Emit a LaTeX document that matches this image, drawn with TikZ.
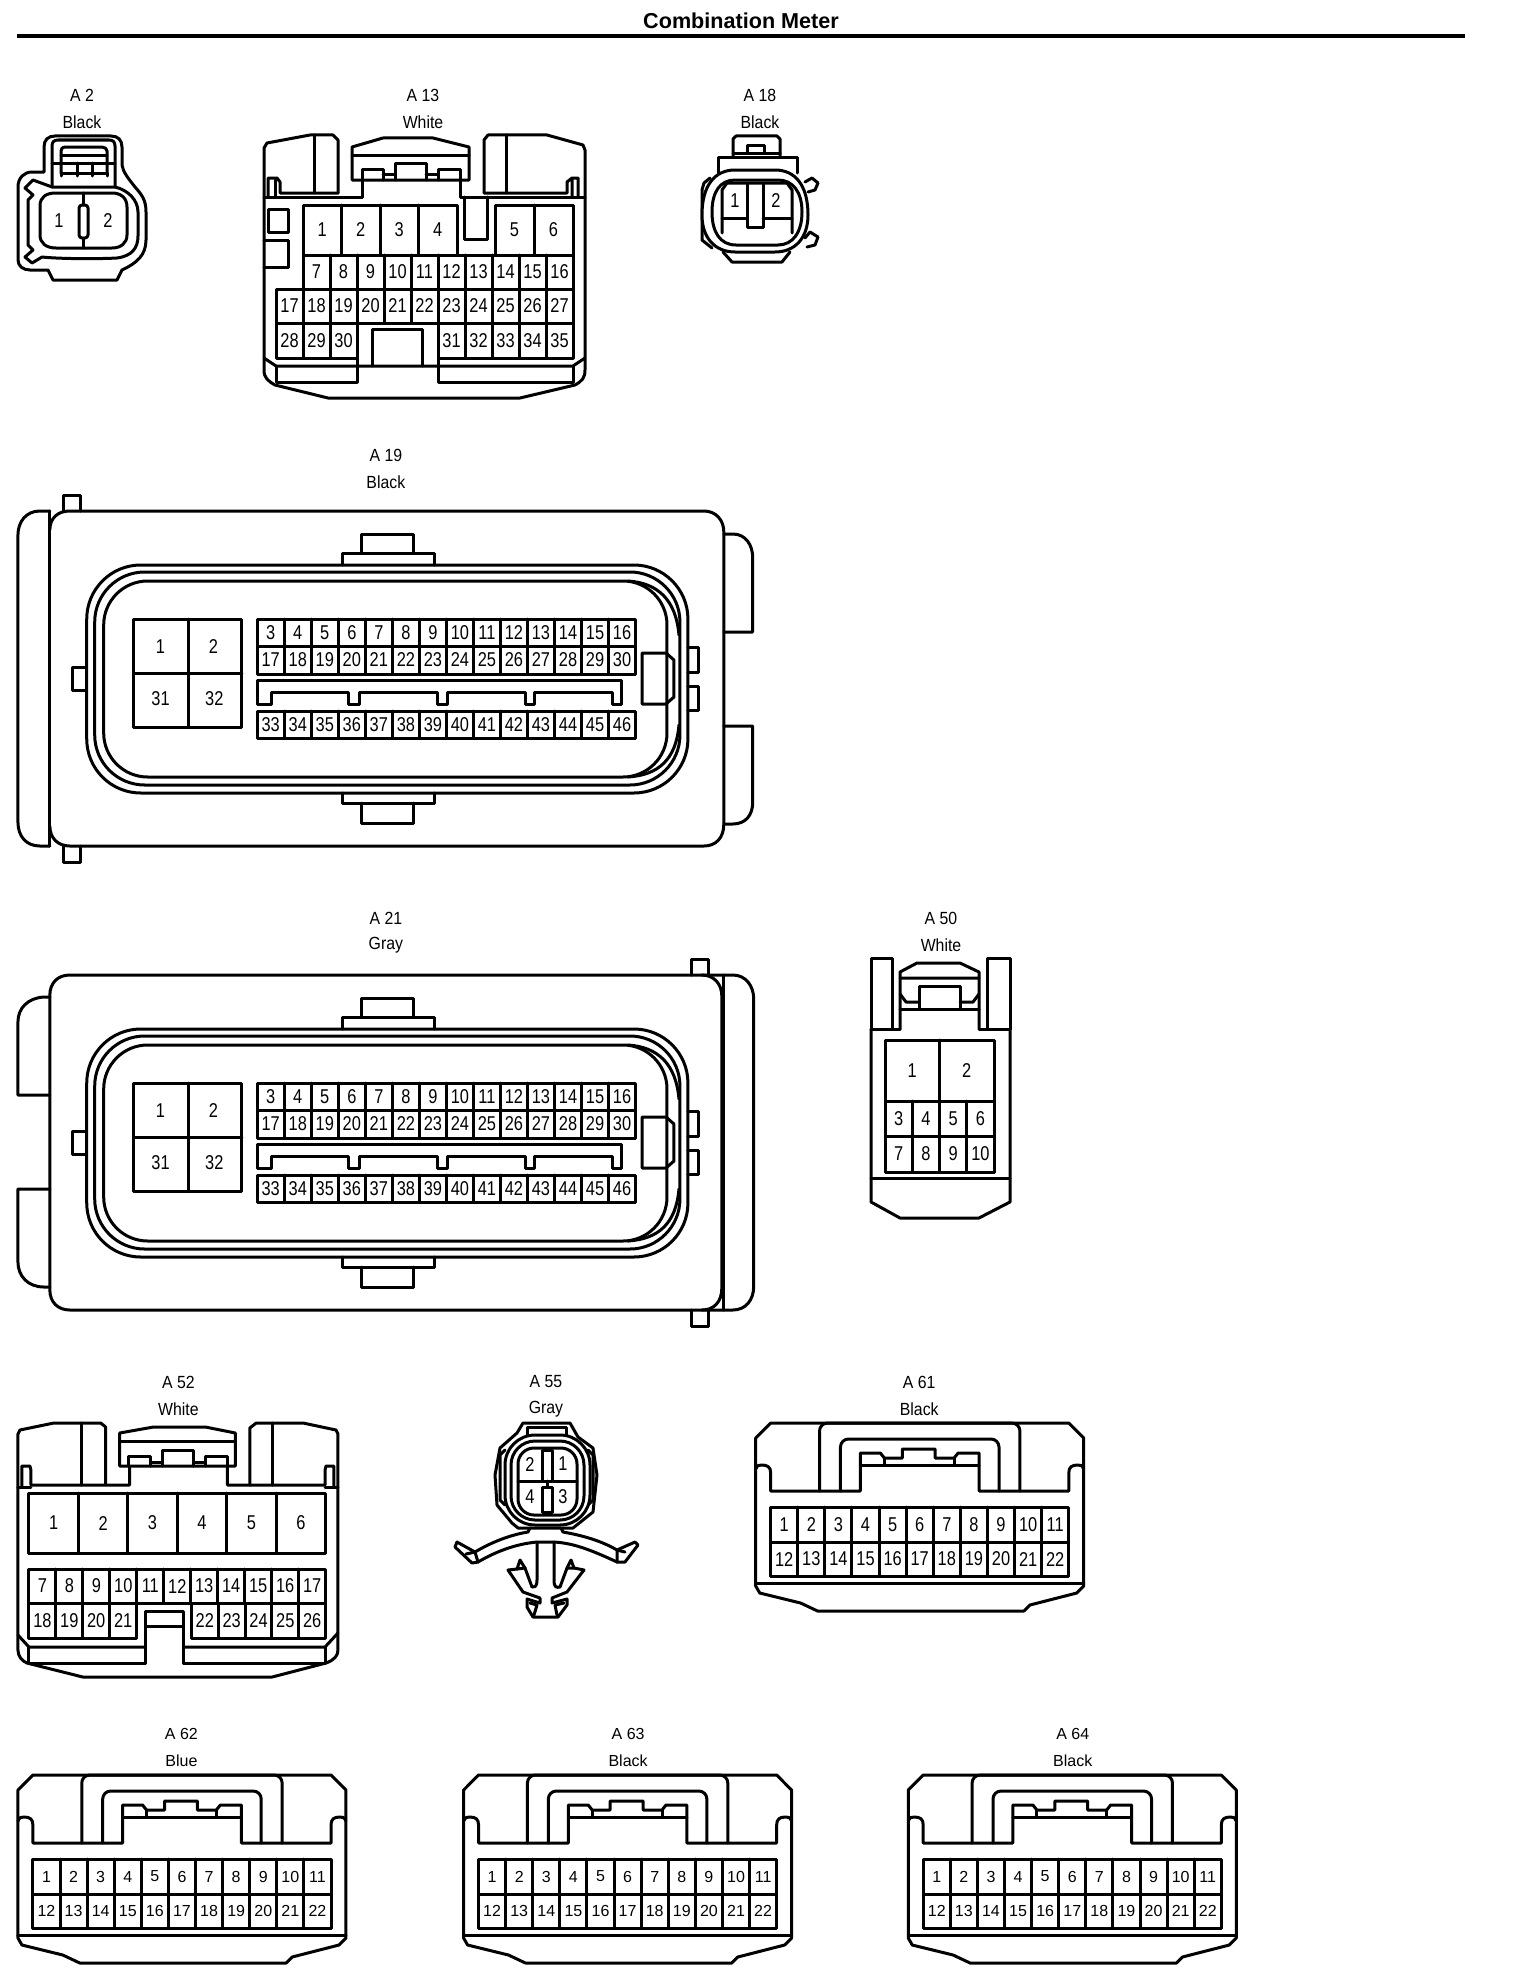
\documentclass[tikz,border=0pt]{standalone}
\usepackage{fontspec}
\setmainfont{Liberation Sans}
\newfontfamily\tallf[FakeStretch=0.82]{Liberation Sans}
\newfontfamily\capf[FakeStretch=0.9]{Liberation Sans}
\newcommand{\pinfont}{\tallf\fontsize{10}{10}\selectfont}
\newcommand{\capfont}{\capf\fontsize{8.8}{9}\selectfont}
\newcounter{pinid}
\tikzset{
  ln/.style={line width=1.5pt,line join=round,line cap=round},
  pinlab/.style={inner sep=0pt,font=\pinfont},
  caplab/.style={inner sep=0pt,font=\capfont},
}
% x0 x1 y0 y1 n first
\newcommand{\prow}[6]{%
  \draw[ln] (#1,#3) rectangle (#2,#4);
  \foreach \i in {1,...,#5}{%
    \pgfmathsetmacro\xa{#1+(#2-#1)*(\i-1)/#5}%
    \pgfmathsetmacro\xc{#1+(#2-#1)*(\i-0.5)/#5}%
    \pgfmathsetmacro\yc{(#3+#4)/2}%
    \pgfmathtruncatemacro\lab{#6+\i-1}%
    \ifnum\i>1 \draw[ln] (\xa,#3)--(\xa,#4);\fi
    \stepcounter{pinid}%
    \node[pinlab] (pin\thepinid) at (\xc,\yc) {\lab};
  }}
\newcommand{\plab}[3]{\stepcounter{pinid}\node[pinlab] (pin\thepinid) at (#1,#2) {#3};}
% name x y(top) colour
\newcommand{\capt}[4]{%
  \node[caplab] (cap#1) at (#2,#3) {A #1};
  \node[caplab] (col#1) at (#2,#3+27) {#4};}
\newcommand{\ecuinner}{%
  \draw[ln] (362.5,552)--(362.5,534)--(415,534)--(415,552);
  \draw[ln] (343.5,565)--(343.5,553)--(436,553)--(436,565);
  \draw[ln] (343.5,793)--(343.5,803)--(436,803)--(436,793);
  \draw[ln] (362.5,803)--(362.5,823)--(415,823)--(415,803);
  \draw[ln,rounded corners=27pt] (87,565) rectangle (690,793);
  \draw[ln,rounded corners=25pt] (95,572) rectangle (682,785);
  \draw[ln,rounded corners=22pt] (104,581) rectangle (669,777);
  \draw[ln] (630,581) .. controls (660,583) and (678,600) .. (681,635);
  \draw[ln] (630,777) .. controls (660,775) and (678,760) .. (681,725);
  \draw[ln] (134,619) rectangle (242.5,727);
  \draw[ln] (189,619)--(189,727) (134,673)--(242.5,673);
  \plab{161}{647}{1}\plab{214}{647}{2}\plab{161}{699}{31}\plab{215}{699}{32}
  \prow{258}{637.5}{619}{646}{14}{3}
  \prow{258}{637.5}{646}{674}{14}{17}
  \prow{258}{637.5}{711}{738}{14}{33}
  \draw[ln] (258,680)--(623,680)--(623,704)--(614,704)--(614,692)--(536,692)--(536,704)--(527,704)--(527,692)--(449,692)--(449,704)--(438.5,704)--(438.5,692)--(360.5,692)--(360.5,704)--(350,704)--(350,692)--(272,692)--(272,704)--(258,704)--cycle;
  \draw[ln] (644,653)--(668,653)--(676,660)--(676,697)--(668,704)--(644,704)--cycle;
  \draw[ln] (690,647)--(701,647)--(701,672)--(690,672);
  \draw[ln] (690,686)--(701,686)--(701,710)--(690,710);
  \draw[ln] (87,667)--(73,667)--(73,690)--(87,690);
}
% 22-way connector, local origin = top left
\newcommand{\conn}{%
  \draw[ln] (0,15)--(15,0)--(314,0)--(329,15)--(329,163)--(322,170)--(275,182)--(269,188)--(62,188)--(45,180)--(4,170)--(0,163)--cycle;
  \draw[ln] (0,160)--(329,160);
  \draw[ln] (0,46) .. controls (2,42) and (3,42) .. (6,42) .. controls (12,42) and (15,44) .. (15,50)
    --(15,68)--(105,68)--(105,30)--(125,30)--(129,35)--(147,35)--(147,26)--(180,26)--(180,35)--(199,35)--(203,30)--(224,30)--(224,68)--(314,68)--(314,50)
    .. controls (314,44) and (317,42) .. (323,42) .. controls (326,42) and (327,42) .. (329,46);
  \draw[ln] (105,42)--(224,42) (129,35)--(129,42) (199,35)--(199,42);
  \draw[ln,rounded corners=4pt] (64,68)--(64,0)--(265,0)--(265,68);
  \draw[ln,rounded corners=4pt] (85,68)--(85,16)--(244,16)--(244,68);
  \prow{15}{314}{84}{119}{11}{1}
  \prow{15}{314}{119}{153}{11}{12}
}
\begin{document}
\begin{tikzpicture}[x=0.5pt,y=-0.5pt]
\fill[white] (0,0) rectangle (1520,1980);
\useasboundingbox (0,0) rectangle (1520,1980);
% title
\node[inner sep=0pt,font=\fontsize{10.8}{12}\selectfont\bfseries] (title) at (741,21) {Combination Meter};
\draw[line width=2pt] (16.5,36)--(1465,36);

%%% A2
\capt{2}{82}{95}{Black}
\draw[ln] (44,172)--(44,147) .. controls (44,140) and (48,136) .. (55,136)--(111,136) .. controls (118,136) and (122,140) .. (122,147)--(122,165)
  .. controls (123,172) and (128,178) .. (135,187) .. controls (142,195) and (146,200) .. (146,212)--(146,240) .. controls (146,255) and (137,263) .. (122,270)--(117,280)--(53,280)--(48,270)--(30,270)
  .. controls (23,270) and (18,266) .. (18,260)--(18,187) .. controls (18,178) and (24,172) .. (32,172)--(44,172);
\draw[ln] (52,187)--(52,146) .. controls (52,142) and (54,140) .. (58,140)--(109,140) .. controls (113,140) and (115,142) .. (115,146)--(115,187);
\draw[ln] (61,173)--(61,151) .. controls (61,149) and (62,147) .. (66,147)--(102,147) .. controls (105,147) and (107,149) .. (107,151)--(107,173);
\draw[ln] (61,155)--(107,155) (52,163)--(115,163) (61,173)--(107,173);
\draw[ln] (77,163)--(77,176) (92,163)--(92,176) (61,173)--(61,176) (107,173)--(107,176);
\draw[ln] (52,187)--(33,180)--(25,188)--(33,195)--(28,200)--(28,245)--(33,250)--(25,257)--(32,263)--(42,257) .. controls (60,259) and (100,259) .. (117,258)
  .. controls (132,256) and (138,248) .. (138,236)--(138,212) .. controls (138,200) and (128,190) .. (115,187)--cycle;
\draw[ln] (40,206) .. controls (40,197) and (46,193) .. (56,193)--(112,193) .. controls (121,193) and (127,198) .. (127,207)--(127,235) .. controls (127,243) and (121,248) .. (112,248)--(56,248) .. controls (46,248) and (40,243) .. (40,235)--cycle;
\draw[ln] (83.5,193)--(83.5,205) (83.5,238)--(83.5,248);
\draw[ln,rounded corners=1.5pt] (79,205) rectangle (88,238);
\plab{59}{221}{1}\plab{108}{221}{2}

%%% A13
\capt{13}{423}{95}{White}
\draw[ln] (338,193)--(338,140)--(333,135)--(310,135)--(267,143)--(264,148)--(264,370) .. controls (264,378) and (268,381) .. (275,385)--(328,398)--(520,398)--(575,385) .. controls (582,381) and (585,378) .. (585,370)--(585,150)--(583,145)--(547,135)--(488,135)--(484,140)--(484,193);
\draw[ln] (314,135)--(314,193) (506,135)--(506,193);
\draw[ln] (268,197)--(268,178)--(277,178)--(280,182)--(280,193)--(338,193);
\draw[ln] (275,180)--(275,197)--(362,197)--(362,180) (264,197)--(275,197);
\draw[ln] (460,180)--(460,197)--(585,197);
\draw[ln] (484,193)--(567,193)--(567,182)--(572,178)--(578,178)--(578,197) (572,180)--(572,197);
\draw[ln] (352,180)--(352,147)--(383,138)--(433,138)--(469,147)--(469,180)--cycle;
\draw[ln] (352,155)--(469,155);
\draw[ln] (362,180)--(362,169)--(383,169)--(383,180) (438,180)--(438,169)--(460,169)--(460,180);
\draw[ln] (395,180)--(395,163)--(426,163)--(426,180) (383,174)--(395,174) (426,174)--(438,174);
\draw[ln] (464,197)--(464,239)--(487,239)--(487,197);
\draw[ln] (268,209) rectangle (288,232);
\draw[ln] (264,240)--(288,240)--(288,267)--(264,267);
\prow{303}{457}{205}{255}{4}{1}
\prow{495}{573}{205}{255}{2}{5}
\prow{303}{573}{255}{289}{10}{7}
\prow{276}{573}{289}{323}{11}{17}
\prow{276}{357}{323}{358}{3}{28}
\prow{438}{573}{323}{358}{5}{31}
\draw[ln] (372,366)--(372,329)--(422,329)--(422,366);
\draw[ln] (264,358)--(276,366)--(573,366)--(585,358);
\draw[ln] (276,366)--(276,382)--(357,382)--(357,358) (438,358)--(438,382)--(573,382)--(573,366);

%%% A18
\capt{18}{760}{95}{Black}
\draw[ln] (733,157)--(733,139)--(736,136)--(777,136)--(780,139)--(780,157);
\draw[ln] (747,153)--(747,145)--(764,145)--(764,153);
\draw[ln] (733,153)--(780,153);
\draw[ln] (718,173)--(718,157)--(797,157)--(797,173);
\draw[ln] (805,182)--(812,178)--(818,183)--(815,190)--(808,192);
\draw[ln] (805,238)--(810,232)--(818,237)--(815,245)--(807,247);
\draw[ln] (710,178)--(704,183)--(702,190)--(702,240)--(712,248);
\draw[ln] (723,252)--(732,262)--(782,262)--(790,252);
\draw[ln,fill=white] (702,215) .. controls (702,185) and (715,170) .. (735,170)--(775,170) .. controls (795,170) and (808,185) .. (808,215) .. controls (808,238) and (795,252) .. (775,252)--(735,252) .. controls (715,252) and (702,238) .. (702,215)--cycle;
\draw[ln] (712,212) .. controls (712,192) and (720,180) .. (735,180)--(778,180) .. controls (793,180) and (802,192) .. (802,212) .. controls (802,232) and (793,245) .. (778,245)--(736,245) .. controls (720,245) and (712,232) .. (712,212)--cycle;
\draw[ln] (722,233)--(722,190)--(727,183)--(787,183)--(792,190)--(792,233);
\draw[ln] (722,218)--(747,218) (763,218)--(792,218);
\draw[ln] (747,183)--(747,227)--(763,227)--(763,183);
\plab{735}{201}{1}\plab{776}{201}{2}

\begin{scope}[xscale=0.997]
%%% A19
\capt{19}{387}{455}{Black}
\draw[ln] (64,511)--(64,495)--(80.5,495)--(80.5,511) (64,846)--(64,862)--(80.5,862)--(80.5,846);
\draw[ln] (50,530) .. controls (50,518) and (58,511) .. (70,511)--(706,511) .. controls (718,511) and (726,520) .. (726,532)--(726,824) .. controls (726,838) and (718,846) .. (706,846)--(70,846) .. controls (58,846) and (50,838) .. (50,826);
\draw[ln] (50,511)--(50,846);
\draw[ln] (50,511)--(40,511) .. controls (26,511) and (18,522) .. (18,535)--(18,822) .. controls (18,836) and (26,846) .. (40,846)--(50,846);
\draw[ln] (726,534)--(735,534) .. controls (748,534) and (755,545) .. (755,558)--(755,632)--(726,632);
\draw[ln] (726,726)--(755,726)--(755,802) .. controls (755,815) and (748,824) .. (735,824)--(726,824);
\ecuinner

%%% A21
\capt{21}{387}{918}{Gray}
\draw[ln] (694,975)--(694,959)--(711,959)--(711,975) (694,1310)--(694,1326)--(711,1326)--(711,1310);
\draw[ln] (70,975)--(704,975) .. controls (716,975) and (724,984) .. (724,996)--(724,1288) .. controls (724,1302) and (716,1310) .. (704,1310)--(70,1310) .. controls (58,1310) and (50,1302) .. (50,1290)--(50,995) .. controls (50,983) and (58,975) .. (70,975);
\draw[ln] (726,975)--(726,1310);
\draw[ln] (704,975)--(735,975) .. controls (748,975) and (756,986) .. (756,999)--(756,1286) .. controls (756,1300) and (748,1310) .. (735,1310)--(704,1310);
\draw[ln] (50,997)--(44,997) .. controls (28,998) and (18,1008) .. (18,1022)--(18,1095)--(50,1095);
\draw[ln] (50,1189)--(18,1189)--(18,1262) .. controls (18,1276) and (28,1287) .. (44,1287)--(50,1287);
\begin{scope}[shift={(0,464)}]
\ecuinner
\end{scope}

%%% A52
\capt{52}{179}{1382}{White}
\draw[ln] (106,1485)--(106,1427)--(101,1423)--(54,1423)--(20,1430)--(18,1434)--(18,1650) .. controls (18,1656) and (22,1661) .. (27,1663)--(83,1677)--(273,1677)--(327,1663) .. controls (335,1660) and (339,1656) .. (339,1650)--(339,1434)--(337,1430)--(304,1423)--(257,1423)--(250.5,1428)--(250.5,1485);
\draw[ln] (82,1423)--(82,1485) (273,1423)--(273,1485);
\draw[ln] (22,1487)--(22,1466)--(30,1466)--(31,1470)--(31,1485)--(130,1485)--(130,1466);
\draw[ln] (228,1466)--(228,1485)--(326,1485)--(326,1470)--(327,1466)--(335,1466)--(335,1487);
\draw[ln] (18,1487)--(31,1487) (326,1487)--(339,1487);
\draw[ln] (120,1466)--(120,1433)--(154,1427)--(206,1427)--(236,1433)--(236,1466)--cycle;
\draw[ln] (120,1441)--(236,1441);
\draw[ln] (129,1466)--(129,1456)--(151,1456)--(151,1466) (206,1466)--(206,1456)--(228,1456)--(228,1466);
\draw[ln] (163,1466)--(163,1450)--(194,1450)--(194,1466) (151,1462)--(163,1462) (194,1462)--(206,1462);
\prow{29}{326.6}{1493}{1553}{6}{1}
\prow{29}{326.6}{1569}{1603}{11}{7}
\prow{29}{137}{1603}{1638}{4}{18}
\prow{192}{326.6}{1603}{1638}{5}{22}
\draw[ln] (146,1663)--(146,1611)--(184,1611)--(184,1663) (146,1626)--(184,1626);
\draw[ln] (18,1635)--(29,1647)--(146,1647) (184,1647)--(326,1647)--(339,1633);
\draw[ln] (29,1647)--(29,1663)--(146,1663) (184,1663)--(326,1663)--(326,1647);

%%% A61
\capt{61}{922}{1382}{Black}
\begin{scope}[shift={(758,1423)}]\conn\end{scope}

\begingroup
\renewcommand{\pinfont}{\fontsize{8}{8}\selectfont}
\renewcommand{\capfont}{\fontsize{8}{8}\selectfont}
%%% A62
\capt{62}{182}{1734}{Blue}
\begin{scope}[shift={(18,1775)}]\conn\end{scope}
%%% A63
\capt{63}{630}{1734}{Black}
\begin{scope}[shift={(465,1775)}]\conn\end{scope}
%%% A64
\capt{64}{1076}{1734}{Black}
\begin{scope}[shift={(911,1775)}]\conn\end{scope}
\endgroup
\end{scope}

%%% A50
\capt{50}{941}{918}{White}
\draw[ln] (871,1029)--(871,958)--(892,958)--(892,1029);
\draw[ln] (987,1029)--(987,958)--(1010,958)--(1010,1029);
\draw[ln] (900,1029)--(900,972)--(917,963)--(960,963)--(979,972)--(979,1029);
\draw[ln] (900,978)--(979,978) (900,994)--(906,1002)--(919,1002) (979,994)--(973,1002)--(960,1002);
\draw[ln] (919,1009)--(919,986)--(960,986)--(960,1009) (900,1009)--(979,1009);
\draw[ln] (871,1029)--(900,1029) (979,1029)--(1010,1029);
\draw[ln] (871,1029)--(871,1202)--(900,1218)--(979,1218)--(1010,1202)--(1010,1029);
\draw[ln] (871,1178)--(1010,1178);
\prow{885}{994}{1040}{1101}{2}{1}
\prow{885}{994}{1101}{1136}{4}{3}
\prow{885}{994}{1136}{1172}{4}{7}

%%% A55
\capt{55}{546}{1382}{Gray}
\draw[ln] (523,1423)--(570,1423)--(578,1437)--(593,1448)--(597,1475)--(593,1512)--(573,1528)--(518,1528)--(512,1523)--(497,1505)--(495,1475)--(500,1448)--(517,1433)--cycle;
\draw[ln] (527,1435)--(527,1427)--(566,1427)--(566,1435);
\draw[ln] (505,1450)--(500,1455)--(500,1500)--(505,1505) (588,1450)--(593,1455)--(593,1500)--(588,1505);
\draw[ln,rounded corners=15pt,fill=white] (505,1435) rectangle (590,1525);
\draw[ln,rounded corners=12pt] (511,1441) rectangle (584,1520);
\draw[ln,rounded corners=8pt] (518,1448) rectangle (577,1515);
\draw[ln] (518,1481)--(577,1481) (547,1481)--(547,1487);
\draw[ln] (542,1450) rectangle (552,1481);
\draw[ln] (542,1487) rectangle (552,1512);
\plab{530}{1464}{2}\plab{563}{1464}{1}\plab{530}{1497}{4}\plab{563}{1497}{3}
\draw[ln] (530,1528)--(528,1532) .. controls (515,1534) and (495,1540) .. (475,1552)--(457,1542)--(455,1547)--(472,1563)--(478,1562) .. controls (495,1552) and (515,1544) .. (537,1542)--(554,1542)
  .. controls (570,1543) and (585,1547) .. (617,1562)--(625,1562)--(638,1545)--(635,1542)--(617,1550) .. controls (600,1540) and (580,1535) .. (563,1532)--(561,1528);
\draw[ln] (466,1554)--(475,1552)--(478,1562) (625,1552)--(617,1550)--(617,1562);
\draw[ln] (537,1542)--(537,1580) .. controls (537,1587) and (534,1588) .. (532,1587)--(525,1568)--(520,1560)--(517,1569)--(508,1570)--(523,1592)--(540,1598)--(540,1603)--(527,1599)--(527,1607)--(533,1617)--(558,1617)--(567,1605)--(567,1599)--(552,1603)--(552,1598)--(567,1592)--(584,1570)--(574,1568)--(571,1560)--(567,1568)--(560,1587) .. controls (556,1588) and (554,1587) .. (554,1580)--(554,1542);
\draw[ln] (517,1569)--(525,1568) (574,1568)--(567,1568);
\draw[ln] (530,1603)--(537,1605)--(534,1615) (564,1603)--(555,1605)--(557,1615);
\end{tikzpicture}
\end{document}
